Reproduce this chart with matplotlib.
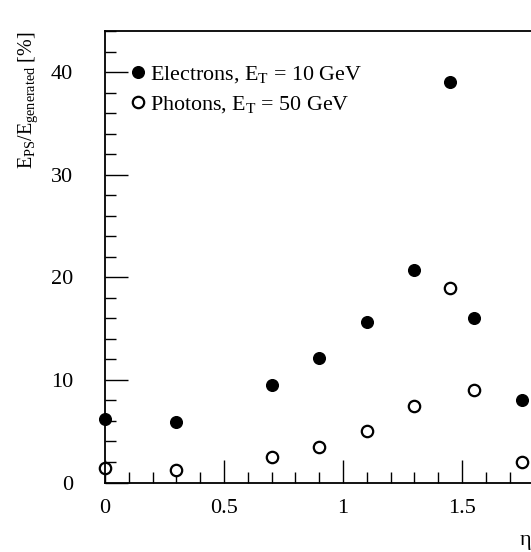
import matplotlib.pyplot as plt
from matplotlib.ticker import MultipleLocator

plt.rcParams['font.family'] = ['Liberation Serif', 'DejaVu Serif']
plt.rcParams['mathtext.fontset'] = 'custom'
plt.rcParams['mathtext.rm'] = 'Liberation Serif'
plt.rcParams['mathtext.it'] = 'Liberation Serif:italic'

eta = [0.0, 0.3, 0.7, 0.9, 1.1, 1.3, 1.45, 1.55, 1.75]
electrons = [6.2, 5.9, 9.5, 12.1, 15.6, 20.7, 39.0, 16.0, 8.0]
photons = [1.4, 1.2, 2.5, 3.5, 5.0, 7.5, 19.0, 9.0, 2.0]
xticks = [0, 0.5, 1, 1.5]
xticklabels = ['0', '0.5', '1', '1.5']

fig = plt.figure(figsize=(5.31, 5.52), dpi=100)
# axes run past the right edge, like the cropped original
ax = fig.add_axes([105 / 531, 69.5 / 552, 2.5 * 238 / 531, 451.5 / 552])

ax.plot(eta, electrons, 'o', color='black', ms=8.4, ls='none', clip_on=False,
        label=r'Electrons, E$_{\mathrm{T}}$ = 10 GeV')
ax.plot(eta, photons, 'o', mfc='white', mec='black', mew=1.6, ms=8.2, ls='none',
        clip_on=False, label=r'Photons, E$_{\mathrm{T}}$ = 50 GeV')

ax.set_xlim(0, 2.5)
ax.set_ylim(0, 44)
ax.set_xticks(xticks)
ax.set_xticklabels(xticklabels)
ax.xaxis.set_minor_locator(MultipleLocator(0.1))
ax.yaxis.set_major_locator(MultipleLocator(10))
ax.yaxis.set_minor_locator(MultipleLocator(2))

ax.tick_params(which='both', direction='in', top=False, right=False, width=1.0)
ax.tick_params(which='major', length=16.5, labelsize=16)
ax.tick_params(axis='y', which='major', pad=23)
ax.tick_params(axis='x', which='major', pad=12)
ax.tick_params(which='minor', length=8)
for s in ax.spines.values():
    s.set_linewidth(1.3)

ax.set_ylabel(r'E$_{\mathrm{PS}}$/E$_{\mathrm{generated}}$ [%]', fontsize=14.5,
              loc='top', labelpad=8)
fig.text(525 / 531, 1 - 540 / 552, '\u03b7', fontsize=16, ha='center', va='center')

ax.legend(loc='upper left', bbox_to_anchor=(0.047, 0.926), frameon=False,
          fontsize=15.8, handlelength=0.5, handletextpad=0.28, labelspacing=0.42,
          borderaxespad=0, borderpad=0)

fig.savefig('out.png', dpi=100)
